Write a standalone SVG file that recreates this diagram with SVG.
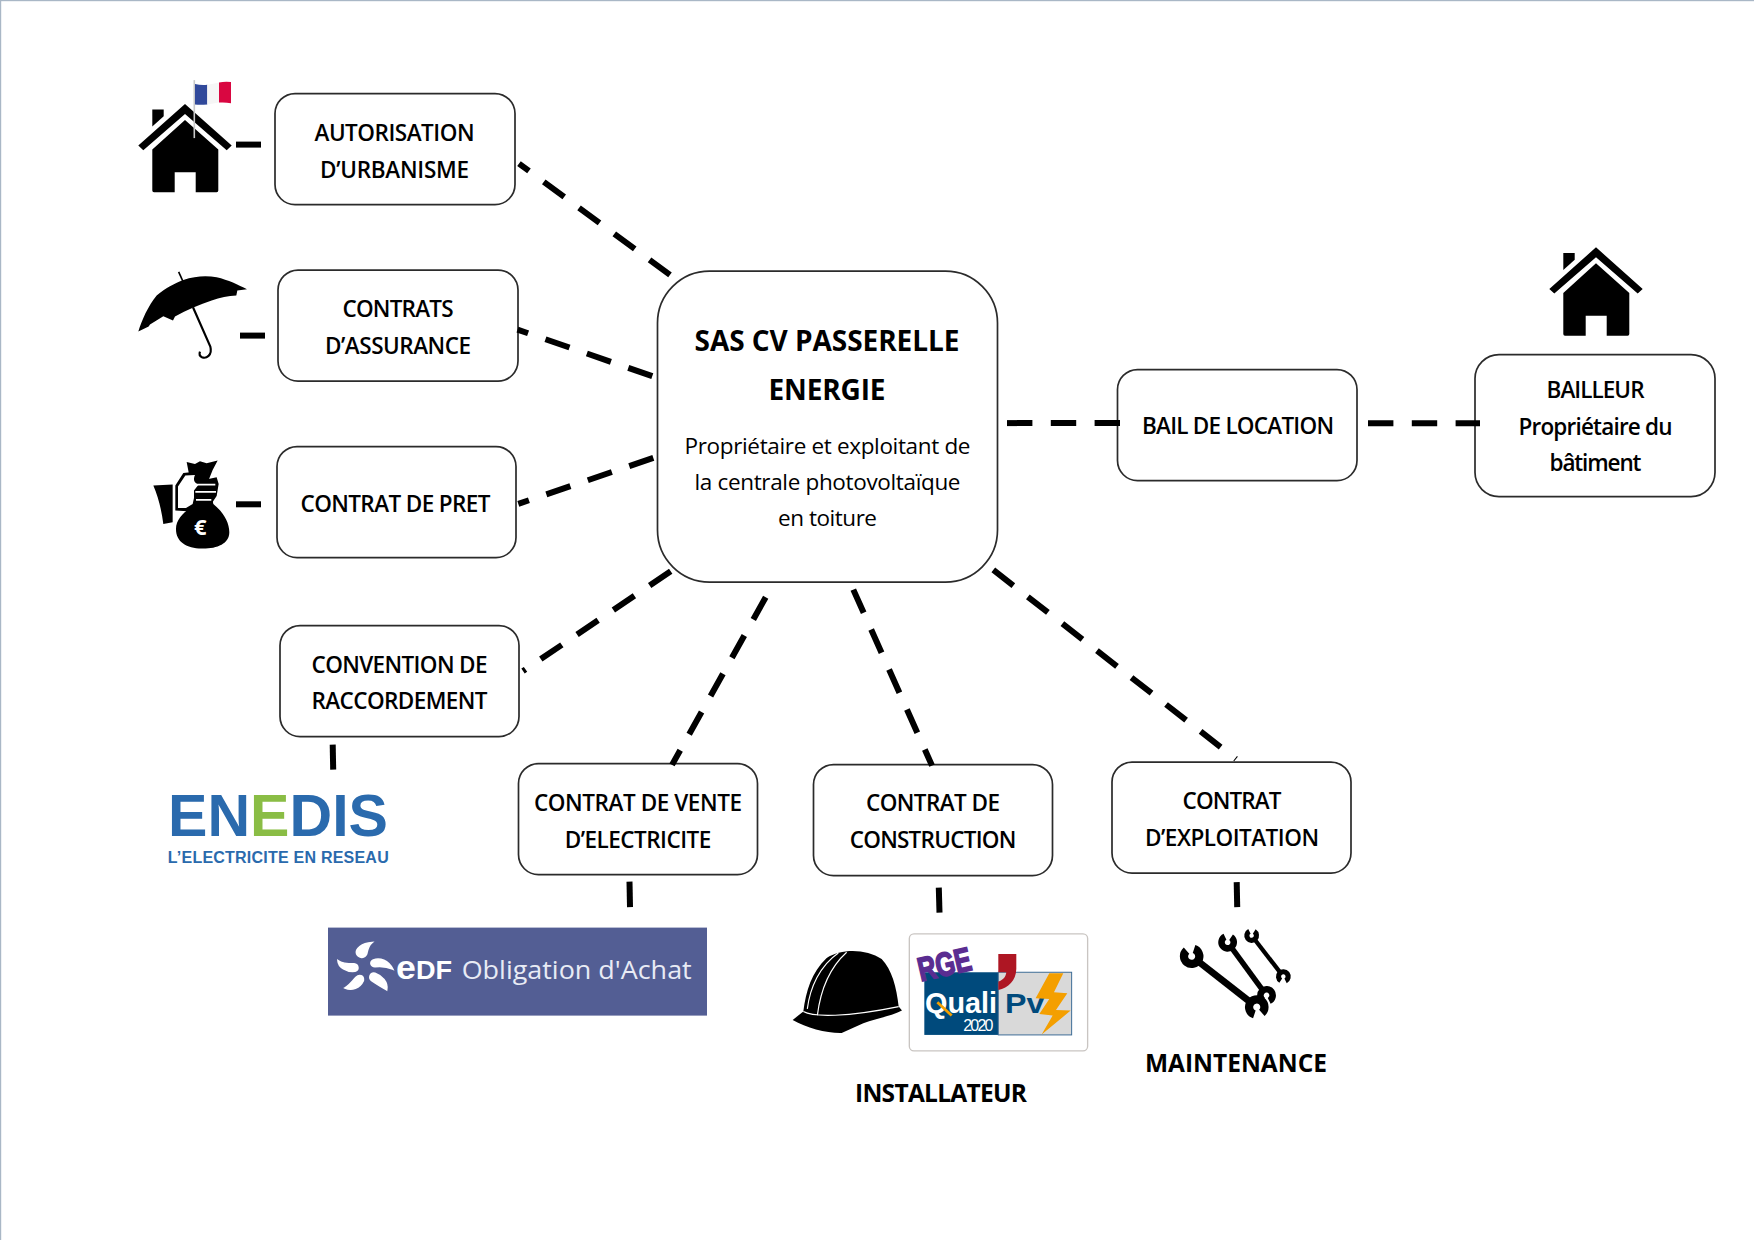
<svg xmlns="http://www.w3.org/2000/svg" width="1754" height="1240" viewBox="0 0 1754 1240">
<style>
.box{fill:#fff;stroke:#2b2b2b;stroke-width:1.7}
text{font-family:"Open Sans","Noto Sans","Liberation Sans",sans-serif;fill:#000;text-anchor:middle}
.lbl{font-size:22.5px;font-weight:600}
.ttl{font-size:28px;font-weight:700}
.sub{font-size:22.5px;font-weight:400}
.cap{font-size:24.5px;font-weight:700}
.logo{font-family:"Liberation Sans",Arial,sans-serif;font-weight:700;text-anchor:start}
.dash{fill:none;stroke:#000;stroke-width:6;stroke-dasharray:25.4 18.4}
.stub{fill:none;stroke:#000;stroke-width:6}
</style>
<defs>
<g id="house">
<path d="M185 103.3 L231.7 145 L226.7 149.6 L185 113.3 L143.3 149.6 L138.3 145Z"/>
<path d="M152.3 109 H163.7 V115.7 L152.3 126Z"/>
<path d="M185 119.3 L218.3 149 V190 Q218.3 191.7 216.6 191.7 H195.7 V171.7 H174.7 V191.7 H154 Q152.3 191.7 152.3 190 V149Z"/>
</g>
<g id="wrench" fill="none" stroke="#000">
<path d="M10 0 L130 0" stroke-width="11.5"/>
<path d="M-4.4 -12.2 A13 13 0 1 1 -12.8 -2.3" stroke-width="14"/>
<path d="M144.4 12.2 A13 13 0 1 1 152.8 2.3" stroke-width="14"/>
</g>
</defs>
<rect width="1754" height="1240" fill="#fff"/>
<rect x="0" y="0" width="1754" height="1.2" fill="#a9b7c6"/>
<rect x="0" y="0" width="1.2" height="1240" fill="#a9b7c6"/>

<g transform="translate(0 .6)">
<g id="node-central">
<rect class="box" x="657.5" y="270.5" width="340" height="311" rx="52"/>
<text class="ttl" x="827" y="350.6" textLength="265">SAS CV PASSERELLE</text>
<text class="ttl" x="827" y="399.5" textLength="117">ENERGIE</text>
<text class="sub" x="827.5" y="453.5" textLength="286">Propriétaire et exploitant de</text>
<text class="sub" x="827.5" y="489.5" textLength="266">la centrale photovoltaïque</text>
<text class="sub" x="827.5" y="525.5" textLength="99">en toiture</text>
</g>

<g id="node-urbanisme">
<rect class="box" x="275" y="93" width="240" height="111" rx="20"/>
<text class="lbl" x="394.5" y="140" textLength="160">AUTORISATION</text>
<text class="lbl" x="394.5" y="177" textLength="149">D’URBANISME</text>
</g>
<g id="icon-urbanisme">
<use href="#house"/>
<line x1="194.3" y1="79.5" x2="194.3" y2="137.5" stroke="#c9c9c9" stroke-width="1.6"/>
<path d="M195 83.3 Q201 85 207.3 84.2 V103.8 Q201 104.6 195 104Z" fill="#31499b"/>
<path d="M207.3 84.2 Q213 83.4 219 82 V102 Q213 103 207.3 103.8Z" fill="#f6f6f6"/>
<path d="M219 82 Q225 80.6 231 81.5 V102.7 Q225 101.4 219 102Z" fill="#d90741"/>
</g>

<g id="node-assurance">
<rect class="box" x="278" y="269.5" width="240" height="111" rx="20"/>
<text class="lbl" x="398" y="316.4" textLength="111">CONTRATS</text>
<text class="lbl" x="398" y="353" textLength="146">D’ASSURANCE</text>
</g>
<g id="icon-assurance" transform="translate(100 50) scale(.3333)">
<path d="M115 843 C125 810 145 765 170 735 C195 712 225 698 250 688 C285 676 320 674 350 680 C385 688 415 703 441 716 L412 720 L409 735 C385 735 360 742 335 750 C300 762 260 778 225 798 L219 810 L190 797 L150 822 L146 828Z"/>
<path d="M236 664 L250 695" stroke="#000" stroke-width="5" fill="none"/>
<path d="M279 770 L331 888 C338 915 318 925 306 920 C298 916 298 908 300 903" stroke="#000" stroke-width="6.5" fill="none"/>
</g>

<g id="node-pret">
<rect class="box" x="277" y="446" width="239" height="111" rx="20"/>
<text class="lbl" x="395.5" y="511" textLength="190">CONTRAT DE PRET</text>
</g>
<g id="icon-pret" transform="translate(100 420) scale(.3333)">
<path d="M160 195 L218 192 V305 L190 310 C185 270 175 230 160 195Z"/>
<path d="M260 124 L285 130 L300 122 L320 128 L353 120 L338 148 L326 178 L340 250 C370 275 388 305 388 335 C388 370 350 385 305 384 C260 382 228 365 228 325 C228 295 255 270 285 254Z"/>
<path d="M226 270 V195 L250 157 L292 153 L322 176 L350 170 L356 190 L350 226 L330 256 L285 256 L262 272Z"/>
<path d="M234 262 V198 L256 165 L285 163 C278 178 284 188 296 192 L282 210 L282 232 L278 250 L258 262Z" fill="#fff"/>
<path d="M286 192 H346 M286 214 H348 M288 238 H334" stroke="#fff" stroke-width="5" fill="none"/>
<text x="301" y="343" font-size="66" font-weight="700" style="fill:#fff">€</text>
</g>

<g id="node-raccordement">
<rect class="box" x="280" y="625" width="239" height="111" rx="20"/>
<text class="lbl" x="399.5" y="672" textLength="176">CONVENTION DE</text>
<text class="lbl" x="399.5" y="708.7" textLength="176">RACCORDEMENT</text>
</g>
<g id="logo-enedis">
<text class="logo" x="168" y="835.5" font-size="60" textLength="220" lengthAdjust="spacingAndGlyphs" style="fill:#2a6aad">EN<tspan style="fill:#8abd45">E</tspan>DIS</text>
<text class="logo" x="167.7" y="862.7" font-size="16" textLength="221" style="fill:#2a6aad">L’ELECTRICITE EN RESEAU</text>
</g>

<g id="node-vente">
<rect class="box" x="518.5" y="763" width="239" height="111" rx="20"/>
<text class="lbl" x="638" y="810" textLength="208">CONTRAT DE VENTE</text>
<text class="lbl" x="638" y="847" textLength="146.5">D’ELECTRICITE</text>
</g>
<g id="logo-edf">
<rect x="328" y="927" width="379" height="88" fill="#535e94"/>
<g transform="translate(310 900) scale(.3333)" fill="#fff" stroke="#fff" stroke-width="5">
<path d="M186 126 C155 128 135 145 140 160 C148 175 165 172 170 160 C172 148 175 135 186 126Z"/>
<path d="M84 180 C85 200 110 215 135 212 C148 208 146 192 132 190 C115 190 98 190 84 180Z"/>
<path d="M105 262 C125 272 150 262 160 240 C162 225 148 220 138 230 C128 242 118 255 105 262Z"/>
<path d="M230 268 C235 245 215 225 195 218 C180 215 175 232 185 240 C198 250 215 258 230 268Z"/>
<path d="M248 205 C235 180 210 170 190 178 C178 185 182 198 195 198 C212 196 232 198 248 205Z"/>
</g>
<text class="logo" x="396" y="978.2" font-size="25" textLength="56" lengthAdjust="spacingAndGlyphs" style="fill:#fff"><tspan font-size="33">e</tspan>DF</text>
<text class="logo" x="461.7" y="978.2" font-size="25.5" textLength="230" lengthAdjust="spacingAndGlyphs" style="fill:#e8ebf5;font-weight:400;font-family:'Open Sans',sans-serif">Obligation d'Achat</text>
</g>

<g id="node-construction">
<rect class="box" x="813.5" y="764" width="239" height="111" rx="20"/>
<text class="lbl" x="933" y="810.4" textLength="134">CONTRAT DE</text>
<text class="lbl" x="933" y="847.4" textLength="166.7">CONSTRUCTION</text>
</g>
<g id="icon-installateur">
<g transform="translate(770 900) scale(.3333)">
<path d="M68 358 L100 333 C108 270 125 215 170 172 C215 142 290 145 335 175 C365 205 380 260 386 318 L396 330 C360 348 315 355 280 368 L215 397 C170 398 110 382 68 358Z"/>
<path d="M100 333 C130 350 230 350 386 318 M112 325 C120 260 150 195 205 157 M142 345 C150 280 175 205 230 155" fill="none" stroke="#fff" stroke-width="3.5"/>
</g>
<g transform="translate(770 900) scale(.3333)">
<rect x="418" y="100" width="535" height="351" rx="14" fill="#fff" stroke="#c9c5c2" stroke-width="4"/>
<rect x="463" y="215" width="222" height="188" fill="#004a7c"/>
<rect x="685" y="215" width="220" height="188" fill="#d9d9d9" stroke="#3e6d96" stroke-width="3"/>
<path d="M685 160 H739 V205 C738 240 715 262 685 268 V243 C700 238 708 228 709 215 H685Z" fill="#ae1623"/>
<text class="logo" transform="rotate(-13 452 243)" x="452" y="243" font-size="100" textLength="162" lengthAdjust="spacingAndGlyphs" style="fill:#5a2d91;stroke:#5a2d91;stroke-width:5">RGE</text>
<text class="logo" x="465" y="338" font-size="86" textLength="216" lengthAdjust="spacingAndGlyphs" style="fill:#fff">Quali</text>
<path d="M502 305 L545 345" stroke="#f49f00" stroke-width="8"/>
<text class="logo" x="705" y="338" font-size="82" textLength="118" lengthAdjust="spacingAndGlyphs" style="fill:#004a7c">Pv</text>
<text class="logo" x="580" y="390" font-size="48" textLength="90" style="fill:#fff;font-weight:400">2020</text>
<path d="M838 218 H880 L852 275 L892 278 L858 328 L902 330 L815 402 L848 345 L808 340 L838 295 L797 293Z" fill="#f49f00"/>
</g>
<text class="cap" x="941" y="1101" textLength="172">INSTALLATEUR</text>
</g>

<g id="node-exploitation">
<rect class="box" x="1112" y="761.5" width="239" height="111" rx="20"/>
<text class="lbl" x="1232" y="808.4" textLength="99">CONTRAT</text>
<text class="lbl" x="1232" y="845.2" textLength="174">D’EXPLOITATION</text>
</g>
<g id="icon-maintenance">
<g transform="translate(1120 900) scale(.3333)">
<use href="#wrench" transform="translate(215 167) rotate(38) scale(1.77)"/>
<use href="#wrench" transform="translate(323 125) rotate(53.8) scale(1.41)"/>
<use href="#wrench" transform="translate(395 105) rotate(52.3) scale(1.11)"/>
</g>
<text class="cap" x="1236" y="1071" textLength="182">MAINTENANCE</text>
</g>

<g id="node-bail">
<rect class="box" x="1117.5" y="369" width="239.5" height="111" rx="20"/>
<text class="lbl" x="1238" y="433.7" textLength="192">BAIL DE LOCATION</text>
</g>

<g id="node-bailleur">
<use href="#house" transform="translate(1411 143.4)"/>
<rect class="box" x="1475" y="354" width="240" height="142" rx="24"/>
<text class="lbl" x="1595.5" y="397.7" textLength="98">BAILLEUR</text>
<text class="lbl" x="1595.5" y="434" textLength="154">Propriétaire du</text>
<text class="lbl" x="1595.5" y="470.7" textLength="92">bâtiment</text>
</g>

<g id="connectors">
<line class="dash" x1="670" y1="274.3" x2="519" y2="163"/>
<line class="dash" x1="652.3" y1="375.5" x2="517.5" y2="329"/>
<line class="dash" x1="653.3" y1="457.3" x2="518.3" y2="503.3"/>
<line class="dash" x1="670.7" y1="570.7" x2="523" y2="670.5"/>
<line class="dash" x1="765.7" y1="596.7" x2="672" y2="764.3"/>
<line class="dash" x1="853.3" y1="589" x2="932" y2="765"/>
<line class="dash" x1="993.3" y1="569.3" x2="1236" y2="758.4"/>
<line class="dash" x1="1007" y1="422.5" x2="1120.5" y2="422.5"/>
<line class="dash" x1="1368" y1="422.7" x2="1480" y2="422.7"/>
<line class="stub" x1="236" y1="144" x2="261" y2="144"/>
<line class="stub" x1="240" y1="335" x2="265" y2="335"/>
<line class="stub" x1="236" y1="503.7" x2="261" y2="503.7"/>
<line class="stub" x1="332.7" y1="744" x2="333.2" y2="769"/>
<line class="stub" x1="629.5" y1="881" x2="630" y2="906.5"/>
<line class="stub" x1="938.8" y1="887" x2="939.5" y2="912"/>
<line class="stub" x1="1236.7" y1="881.5" x2="1237.2" y2="906.5"/>
</g>
</g>
</svg>
